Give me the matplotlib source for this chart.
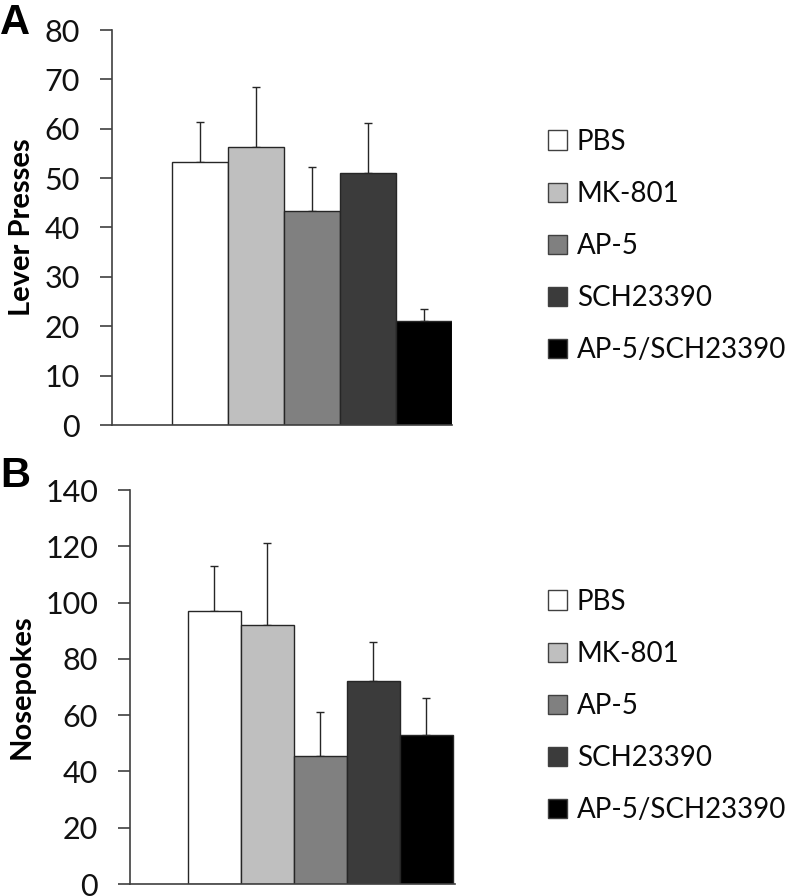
import numpy as np
import matplotlib.pyplot as plt
from matplotlib.patches import Patch

plt.rcParams['font.family'] = ['Lato', 'DejaVu Sans']

# data
groups = ['PBS', 'MK-801', 'AP-5', 'SCH23390', 'AP-5/SCH23390']
colors = ['#ffffff', '#bfbfbf', '#808080', '#3b3b3b', '#000000']

lever_mean = [53.2, 56.3, 43.3, 51.0, 21.1]
lever_err = [8.2, 12.1, 9.0, 10.2, 2.3]

nose_mean = [97.0, 92.0, 45.5, 72.0, 53.0]
nose_err = [16.0, 29.0, 15.5, 14.0, 13.0]

fig = plt.figure(figsize=(7.88, 8.96), dpi=100)

axA = fig.add_axes([112/788, 1-425/896, 340/788, 395/896])
axB = fig.add_axes([130/788, 1-884/896, 325/788, 394/896])

def panel(ax, means, errs, ymax, step, ylabel, xlim, leg_y):
    x = np.arange(len(groups))
    ax.bar(x, means, width=1.0, color=colors, edgecolor='#262626', linewidth=1.0, zorder=2)
    ax.errorbar(x, means, yerr=[np.zeros(len(errs)), errs], fmt='none',
                ecolor='#262626', elinewidth=1.0, capsize=3, capthick=1.0, zorder=1)
    ax.set_xlim(*xlim)
    ax.set_ylim(0, ymax)
    ax.set_yticks(np.arange(0, ymax + 1, step))
    ax.set_xticks([])
    for s in ['top', 'right']:
        ax.spines[s].set_visible(False)
    for s in ['left', 'bottom']:
        ax.spines[s].set_color('#404040')
        ax.spines[s].set_linewidth(1.2)
    ax.tick_params(axis='y', direction='out', length=9, width=1.2, color='#404040',
                   labelsize=22, pad=14, labelcolor='#111111')
    ax.set_ylabel(ylabel, fontsize=21, fontweight='bold')
    handles = [Patch(facecolor=c, edgecolor='#404040', linewidth=1.0) for c in colors]
    fig.legend(handles, groups, loc='center left', bbox_to_anchor=(548/788, 1-leg_y/896),
               bbox_transform=fig.transFigure, frameon=False, fontsize=20,
               handlelength=0.68, handleheight=0.68, handletextpad=0.35,
               labelspacing=0.94, borderaxespad=0, borderpad=0, labelcolor='#0a0a0a')

panel(axA, lever_mean, lever_err, 80, 10, 'Lever Presses', (-1.571, 4.5), 246)
panel(axB, nose_mean, nose_err, 140, 20, 'Nosepokes', (-1.594, 4.54), 706)

axA.yaxis.set_label_coords((35-112)/340, 0.5)
axB.yaxis.set_label_coords((35-130)/325, 0.5)

fig.text(0.0, 1-3/896, 'A', fontsize=30, fontweight='bold', ha='left', va='top',
         family='Liberation Sans')
fig.text(0.0, 1-456/896, 'B', fontsize=30, fontweight='bold', ha='left', va='top',
         family='Liberation Sans')

fig.savefig('out.png', dpi=100)
